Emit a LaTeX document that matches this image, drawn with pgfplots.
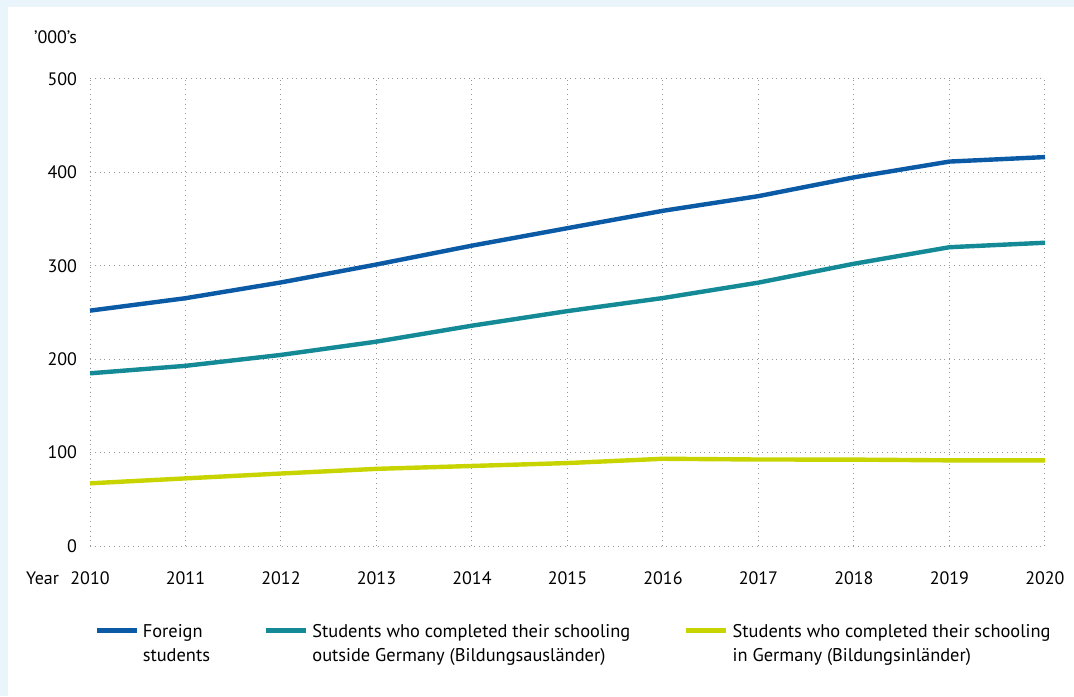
\documentclass[border=0pt]{standalone}
\usepackage{pgfplots}
\pgfplotsset{compat=1.18}
\usepackage{fontspec}
\setmainfont{PT Sans}
\definecolor{bgblue}{HTML}{EAF4FB}
\definecolor{cForeign}{HTML}{0B5AA6}
\definecolor{cAus}{HTML}{138A96}
\definecolor{cIn}{HTML}{C8D400}
\definecolor{gridc}{HTML}{999999}
\begin{document}
\begin{tikzpicture}
\fill[bgblue] (0,0) rectangle (537pt,348pt);
\fill[white] (4pt,0) rectangle (537pt,344.5pt);
\begin{axis}[
  at={(45pt,75pt)}, anchor=south west,
  scale only axis, width=477.5pt, height=233.5pt,
  xmin=2010, xmax=2020, ymin=0, ymax=500,
  xtick={2010,...,2020}, ytick={0,100,...,500},
  xticklabel style={/pgf/number format/1000 sep={}, yshift=-9.5pt},
  yticklabel style={xshift=-3pt},
  /pgf/number format/assume math mode=true,
  axis line style={draw=none},
  major tick length=0pt,
  grid=major,
  major grid style={gridc, dotted, line width=0.5pt},
  tick label style={font=\fontsize{9}{10}\selectfont},
  clip=false,
  legend style={at={(axis description cs:0,0)}, anchor=north west, xshift=-1pt, yshift=-35pt,
    draw=none, fill=none, font=\fontsize{9.2}{12}\selectfont, cells={align=left, anchor=north west},
    /tikz/every even column/.append style={column sep=25pt},
    /tikz/every odd column/.append style={column sep=0pt}},
  legend columns=3,
  legend cell align=left,
  legend image code/.code={\draw[#1, line width=2.2pt] (0pt,7pt) -- (20pt,7pt);},
]
\addplot[cForeign, line width=2.2pt] coordinates {
(2010,252.0) (2011,265.3) (2012,282.2) (2013,301.4) (2014,321.6) (2015,340.3)
(2016,358.9) (2017,374.6) (2018,394.7) (2019,411.6) (2020,416.4)};
\addlegendentry{Foreign\\students}
\addplot[cAus, line width=2.2pt] coordinates {
(2010,184.9) (2011,192.9) (2012,204.6) (2013,218.8) (2014,235.9) (2015,251.5)
(2016,265.5) (2017,282.0) (2018,302.2) (2019,319.9) (2020,324.7)};
\addlegendentry{Students who completed their schooling\\outside Germany (Bildungsausländer)}
\addplot[cIn, line width=2.2pt] coordinates {
(2010,67.1) (2011,72.4) (2012,77.6) (2013,82.6) (2014,85.7) (2015,88.8)
(2016,93.4) (2017,92.6) (2018,92.5) (2019,91.7) (2020,91.7)};
\addlegendentry{Students who completed their schooling\\in Germany (Bildungsinländer)}
\node[anchor=base east, font=\fontsize{9}{10}\selectfont] at ([xshift=-12pt,yshift=-19pt]rel axis cs:0,0) {Year};
\node[anchor=east, font=\fontsize{9}{10}\selectfont] at ([xshift=-3pt,yshift=21pt]rel axis cs:0,1) {’000’s};
\end{axis}
\end{tikzpicture}
\end{document}
